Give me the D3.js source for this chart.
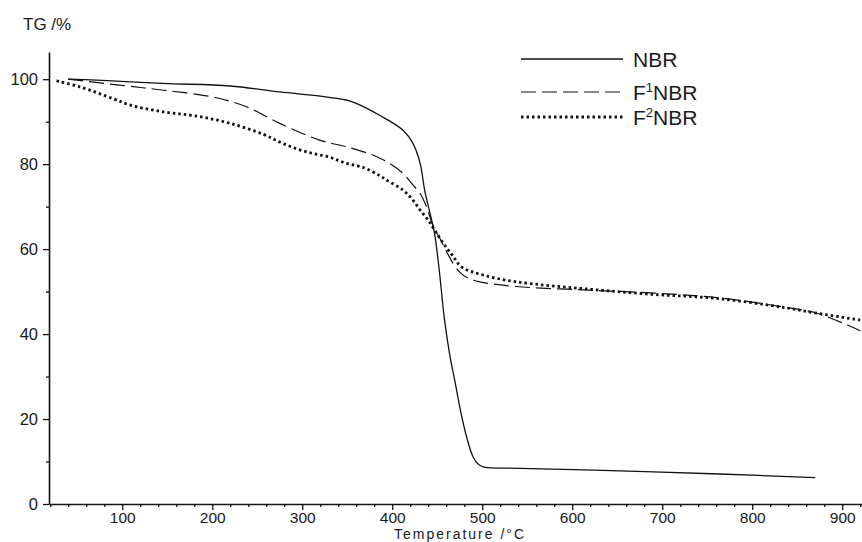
<!DOCTYPE html>
<html>
<head>
<meta charset="utf-8">
<script src="https://cdn.jsdelivr.net/npm/d3@7"></script>
<style>
  body { margin: 0; background: #fff; }
  svg { display: block; }
  text { font-family: "Liberation Sans", Arial, sans-serif; fill: #1a1a1a; }
</style>
</head>
<body>
<div id="chart"></div>
<script>
// TG data (temperature in °C, mass in %)
const nbrT = [40, 72, 145, 220, 275, 320, 349, 360, 386, 412, 423, 431, 436, 442, 447, 452, 458, 464, 470, 476, 483, 490, 496, 502, 542, 653, 764, 870];
const nbrV = [100, 99.8, 99.0, 98.4, 97.0, 96.0, 95.1, 94.3, 91.5, 88, 84.9, 80.2, 73.9, 68.4, 63.7, 55.5, 43.5, 35, 28.5, 21.8, 15.5, 11, 9.3, 8.7, 8.4, 7.8, 7.06, 6.2];

const f1T = [40, 97, 146, 201, 238, 275, 320, 349, 379, 397, 412, 423, 431, 438, 446, 453, 460, 468, 475, 483, 497, 538, 612, 686, 760, 834, 872, 920];
const f1V = [100, 98.6, 97.4, 95.8, 93.5, 89.6, 85.6, 84.1, 82.1, 80.2, 77.8, 75.1, 73.1, 70, 65.2, 62.5, 59.6, 56.5, 54.6, 53.3, 52.3, 51.2, 50.4, 49.7, 48.6, 46.4, 44.9, 40.8];

const f2T = [27, 53, 90, 109, 146, 183, 220, 257, 275, 294, 312, 331, 349, 368, 386, 394, 412, 423, 431, 440, 447, 457, 468, 477, 501, 538, 612, 686, 760, 834, 872, 920];
const f2V = [99.6, 98.2, 95.4, 93.9, 92.3, 91.3, 89.6, 87.0, 85.2, 83.6, 82.5, 81.6, 80.2, 79.2, 77.3, 76.2, 73.9, 71.5, 69.2, 66.8, 64.5, 61.3, 58.2, 55.8, 53.9, 52.3, 50.7, 49.4, 48.4, 46.3, 44.9, 43.3];

const yTicks = [0, 20, 40, 60, 80, 100];
const yMinor = [10, 30, 50, 70, 90];
const xTicks = [100, 200, 300, 400, 500, 600, 700, 800, 900];
const xMinor = d3.range(20, 921, 20).filter(v => v % 100 !== 0);

const width = 862, height = 542;

const svg = d3.select("#chart").append("svg")
  .attr("width", width)
  .attr("height", height);

const x = d3.scaleLinear().domain([18.6, 922]).range([49, 862]);
const y = d3.scaleLinear().domain([0, 106.4]).range([504, 52]);

// axes
function styleAxis(size) {
  return g => {
    g.select(".domain").attr("stroke", "#111").attr("stroke-width", 1.6);
    g.selectAll(".tick line").attr("stroke", "#111").attr("stroke-width", 1.3);
    g.selectAll(".tick text").style("font-size", size).attr("fill", "#1a1a1a");
  };
}

svg.append("g")
  .attr("transform", "translate(0,504)")
  .call(d3.axisBottom(x).tickValues(xMinor).tickSize(3).tickFormat(""))
  .call(g => g.select(".domain").remove())
  .call(styleAxis("15px"));

svg.append("g")
  .attr("transform", "translate(0,504)")
  .call(d3.axisBottom(x).tickValues(xTicks).tickSize(6).tickPadding(2).tickSizeOuter(0))
  .call(styleAxis("15.5px"));

svg.append("g")
  .attr("transform", "translate(49,0)")
  .call(d3.axisLeft(y).tickValues(yMinor).tickSize(3).tickFormat(""))
  .call(g => g.select(".domain").remove())
  .call(styleAxis("16.5px"));

svg.append("g")
  .attr("transform", "translate(49,0)")
  .call(d3.axisLeft(y).tickValues(yTicks).tickSize(6).tickPadding(5).tickSizeOuter(0))
  .call(styleAxis("16.5px"));

// axis titles
svg.append("text")
  .attr("x", 23).attr("y", 30)
  .style("font-size", "17px")
  .text("TG /%");

svg.append("text")
  .attr("x", 394).attr("y", 538.8)
  .attr("textLength", 130)
  .style("font-size", "14px")
  .text("Temperature /°C");

// curves
const series = [
  { name: "NBR", sup: "", t: nbrT, v: nbrV, dash: null, w: 1.3 },
  { name: "NBR", sup: "1", t: f1T, v: f1V, dash: "15,6", w: 1.2 },
  { name: "NBR", sup: "2", t: f2T, v: f2V, dash: "2.5,3", w: 2.8 }
];

const line = d3.line()
  .x(d => x(d[0]))
  .y(d => y(d[1]))
  .curve(d3.curveCatmullRom.alpha(0.5));

series.forEach(s => {
  svg.append("path")
    .datum(d3.zip(s.t, s.v))
    .attr("d", line)
    .attr("fill", "none")
    .attr("stroke", "#111")
    .attr("stroke-width", s.w)
    .attr("stroke-dasharray", s.dash);
});

// legend
const legendY = [59, 92, 117];
series.forEach((s, i) => {
  svg.append("line")
    .attr("x1", 521).attr("x2", 623)
    .attr("y1", legendY[i]).attr("y2", legendY[i])
    .attr("stroke", "#111")
    .attr("stroke-width", s.w)
    .attr("stroke-dasharray", s.dash);
  const t = svg.append("text")
    .attr("x", 633).attr("y", legendY[i] + 8)
    .style("font-size", "21px");
  if (s.sup) {
    t.append("tspan").text("F");
    t.append("tspan").attr("dy", -8).style("font-size", "13px").text(s.sup);
    t.append("tspan").attr("dy", 8).text(s.name);
  } else {
    t.text(s.name);
  }
});
</script>
</body>
</html>
